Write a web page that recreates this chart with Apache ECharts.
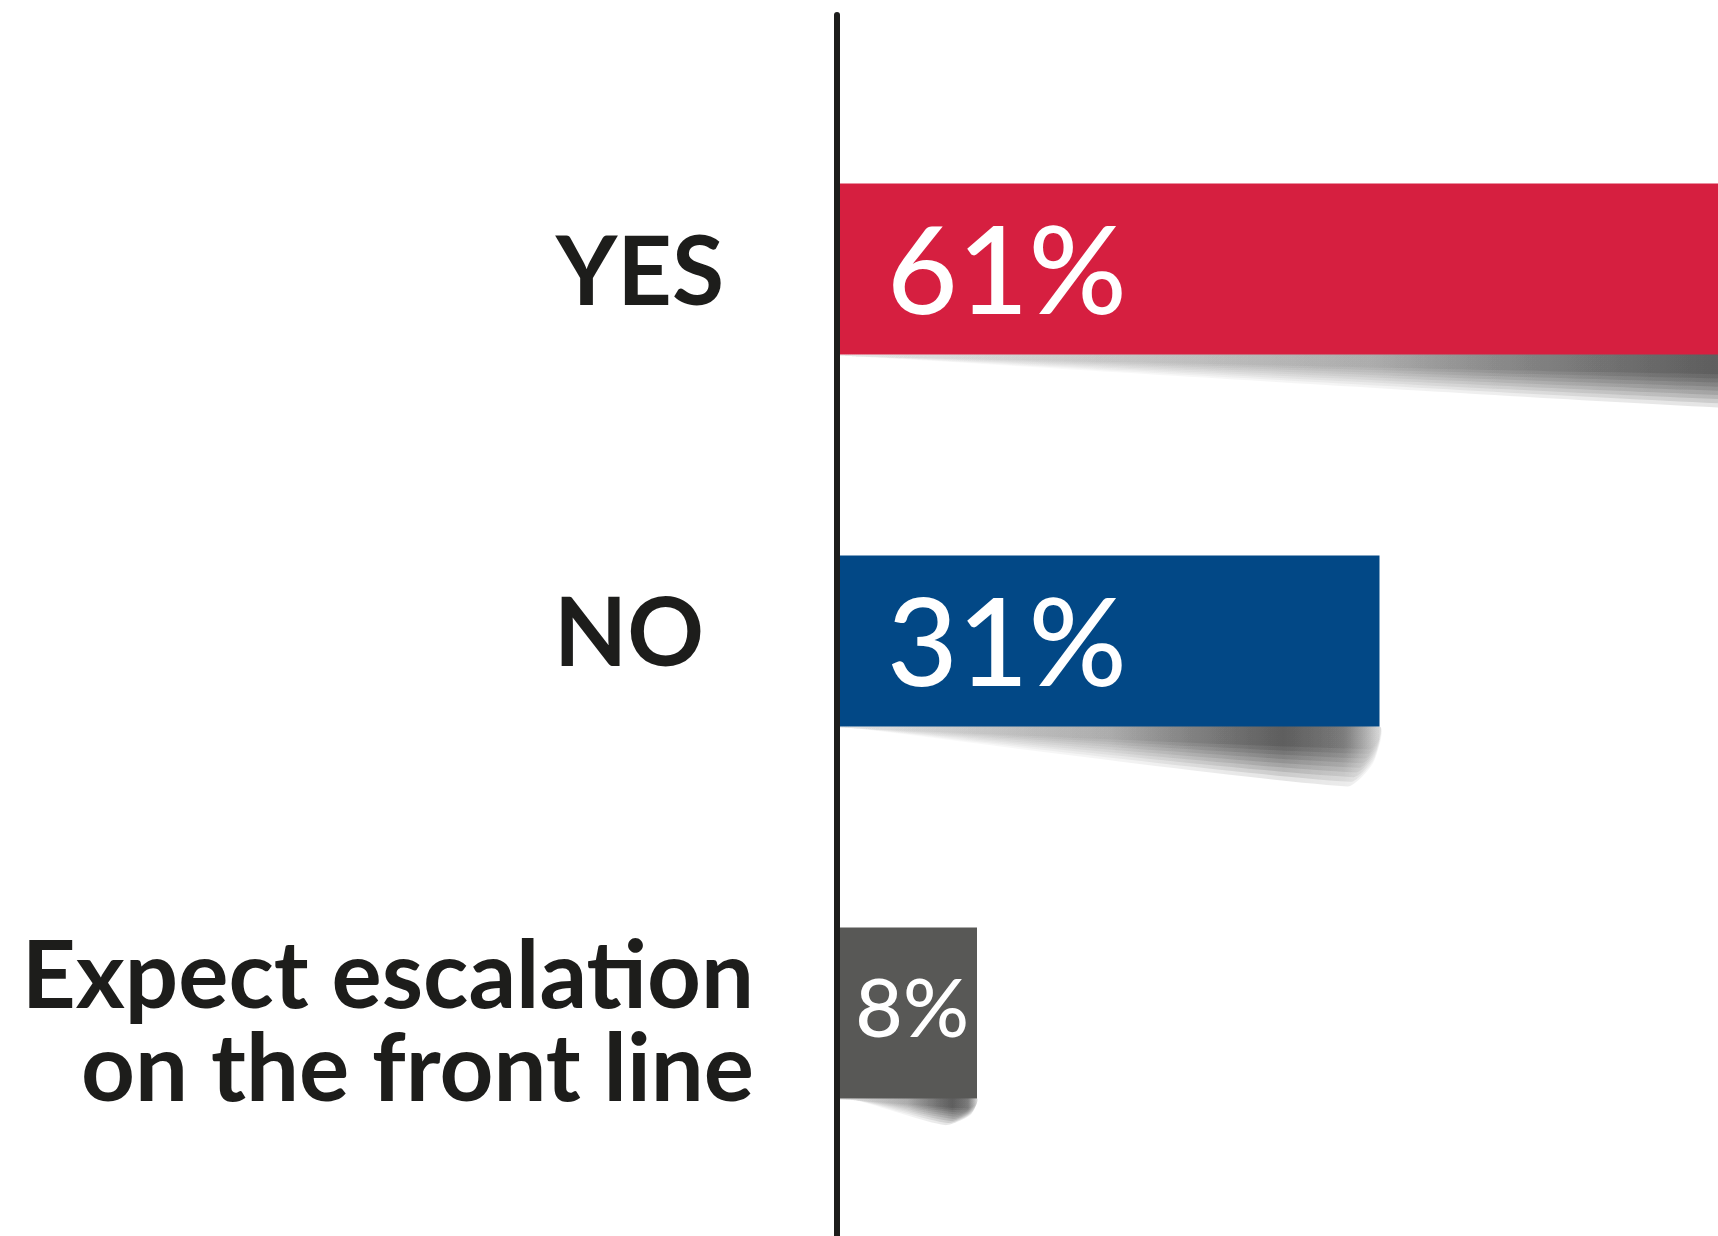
<!DOCTYPE html>
<html>
<head>
<meta charset="utf-8">
<title>Expect escalation on the front line</title>
<script src="https://cdn.jsdelivr.net/npm/echarts@6/dist/echarts.min.js"></script>
<style>
  html, body { margin: 0; padding: 0; background: #ffffff; }
  #chart { width: 1718px; height: 1236px; }
</style>
</head>
<body>
<div id="chart"></div>
<script>
// Survey answers and their shares (percent)
const categories = ['YES', 'NO', 'Expect escalation\non the front line'];
const shares = [61, 31, 8];

// Styling constants
const barColors = ['#d61f40', '#024886', '#585856'];
const INK = '#1d1d1b';
const BAR_THICKNESS = 171;
const PX_PER_PERCENT = 17.5;

// extra right padding so each answer sits where it should beside the divider
const labelPad = [30, 50, 0];

const chart = echarts.init(document.getElementById('chart'), null, { renderer: 'canvas' });

// soft wedge-shaped drop shadow under each bar, deepening towards the bar end;
// built from stacked translucent layers so the lower edge and the tip fade out
function renderShadow(params, api) {
  const cat = api.value(1);
  const v = api.value(0);
  const start = api.coord([0, cat]);
  const end = api.coord([v, cat]);
  const x0 = start[0];
  const x1 = end[0];
  const yb = start[1] + BAR_THICKNESS / 2;
  const w = x1 - x0;
  const d = Math.min(60, 14 + w * 0.09);
  const layers = 9;
  const children = [];
  for (let i = 0; i < layers; i++) {
    const t = (i + 1) / layers;
    const di = d * (0.3 + 0.7 * t);
    const xr = x1 - 6 * t;
    children.push({
      type: 'polygon',
      shape: {
        smooth: 0.2,
        points: [
          [x0, yb],
          [x1, yb],
          [xr, yb + di * 0.6],
          [xr - 6 - 20 * t, yb + di],
          [x0 + 20, yb + 2],
          [x0, yb + 1]
        ]
      },
      style: {
        fill: new echarts.graphic.LinearGradient(0, 0, 1, 0, [
          { offset: 0, color: 'rgba(0,0,0,0.01)' },
          { offset: 0.5, color: 'rgba(0,0,0,0.045)' },
          { offset: 0.82, color: 'rgba(0,0,0,0.105)' },
          { offset: 0.93, color: 'rgba(0,0,0,0.08)' },
          { offset: 1, color: 'rgba(0,0,0,0.015)' }
        ])
      }
    });
  }
  return { type: 'group', children: children };
}

const option = {
  backgroundColor: '#ffffff',
  animation: false,
  grid: [
    { left: 837, top: 83, height: 1116, width: PX_PER_PERCENT * 100, outerBoundsMode: 'none', containLabel: false },
    { left: 837, top: 15, bottom: -20, width: 10, outerBoundsMode: 'none', containLabel: false }
  ],
  xAxis: [
    { type: 'value', gridIndex: 0, min: 0, max: 100, show: false },
    { type: 'value', gridIndex: 1, min: 0, max: 1, show: false }
  ],
  yAxis: [
    {
      type: 'category',
      gridIndex: 0,
      inverse: true,
      data: categories,
      axisLine: { show: false },
      axisTick: { show: false },
      splitLine: { show: false },
      axisLabel: {
        margin: 83,
        formatter: function (value, idx) {
          return '{c' + idx + '|' + value + '}';
        },
        rich: {
          c0: { fontFamily: 'Lato', fontWeight: 'bold', fontSize: 95, color: INK, padding: [10, labelPad[0], 0, 0] },
          c1: { fontFamily: 'Lato', fontWeight: 'bold', fontSize: 95, color: INK, padding: [0, labelPad[1], 11, 0] },
          c2: { fontFamily: 'Lato', fontWeight: 'bold', fontSize: 94, color: INK, lineHeight: 93, align: 'right', padding: [23, labelPad[2], 0, 0] }
        }
      }
    },
    {
      // the vertical divider line
      type: 'value',
      gridIndex: 1,
      min: 0,
      max: 1,
      z: 10,
      axisLine: { show: true, lineStyle: { color: INK, width: 6 } },
      axisTick: { show: false },
      axisLabel: { show: false },
      splitLine: { show: false }
    }
  ],
  series: [
    {
      type: 'custom',
      xAxisIndex: 0,
      yAxisIndex: 0,
      z: 1,
      silent: true,
      renderItem: renderShadow,
      encode: { x: 0, y: 1 },
      data: shares.map((v, i) => [v, i])
    },
    {
      type: 'bar',
      xAxisIndex: 0,
      yAxisIndex: 0,
      z: 2,
      barWidth: BAR_THICKNESS,
      itemStyle: {
        color: function (p) { return barColors[p.dataIndex]; }
      },
      label: {
        show: true,
        position: 'insideLeft',
        distance: 50,
        offset: [0, 6],
        formatter: '{c}%',
        fontFamily: 'Lato',
        fontWeight: 500,
        fontSize: 122,
        color: '#ffffff'
      },
      data: shares.map((v, i) => i === 2
        ? { value: v, label: { position: 'insideRight', distance: 8, offset: [0, -2], fontSize: 82 } }
        : v)
    }
  ]
};

chart.setOption(option);
</script>
</body>
</html>
